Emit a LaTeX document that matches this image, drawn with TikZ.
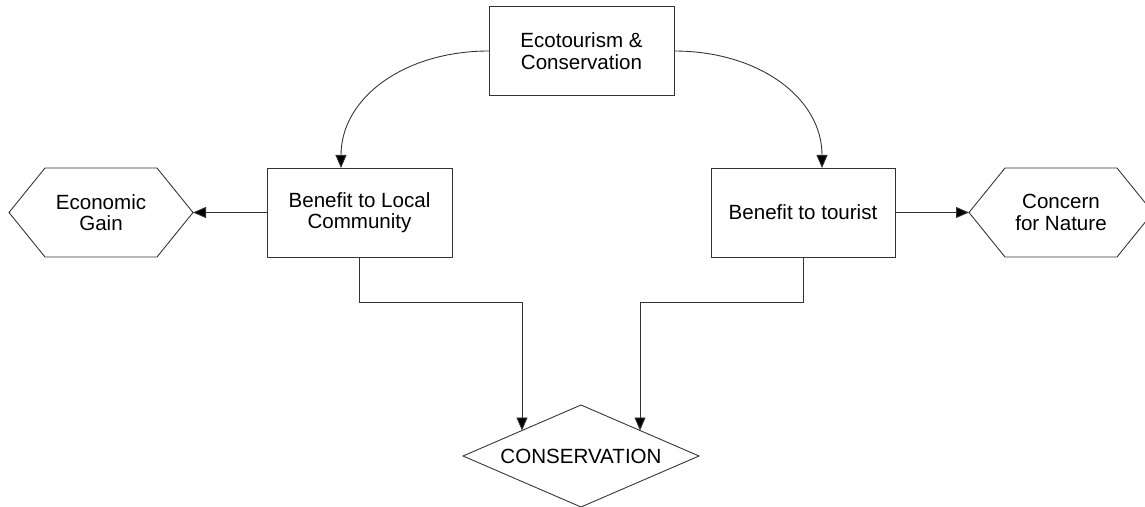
\documentclass[tikz,border=0pt]{standalone}
\usepackage{fontspec}
\setmainfont{Liberation Sans}
\usepackage{tikz}
\usetikzlibrary{positioning, shapes, shapes.geometric, arrows.meta, calc}
\tikzset{
  box/.style={
    draw, rectangle, outer sep=0pt, inner sep=2pt,
    minimum width=3.7cm, minimum height=1.78cm,
    align=center
  },
  hexa/.style={
    rectangle, outer sep=0pt, inner sep=2pt,
    minimum width=3.68cm, minimum height=1.78cm,
    align=center
  },
  decision/.style={
    draw, diamond, aspect=2.31, outer sep=0pt, inner sep=1pt,
    minimum width=4.72cm, minimum height=2.04cm
  },
  arrow/.style={-{Triangle[length=0.26cm, width=0.22cm, fill=black]}},
  line/.style={draw}
}

\begin{document}
\begin{tikzpicture}[line width=0.5pt, draw=black!80, every node/.style={font=\fontsize{11.7}{12.2}\selectfont}]
\useasboundingbox (0,0) rectangle (22.9,-10.14);

%% Boxes
\node[box] (eco) at (11.63,-1.02) {Ecotourism \&\\Conservation};
\node[box] (local) at (7.19,-4.25) {Benefit to Local\\Community};
\node[box, minimum width=3.68cm] (tourist) at (16.06,-4.25) {Benefit to tourist};

%% Hexagons
\node[hexa] (gain) at (2.02,-4.25) {Economic\\Gain};
\node[hexa] (nature) at (21.22,-4.25) {Concern\\for Nature};
\foreach \n in {gain,nature}
  \draw[line] (\n.west) -- ([xshift=0.72cm]\n.north west) -- ([xshift=-0.72cm]\n.north east)
    -- (\n.east) -- ([xshift=-0.72cm]\n.south east) -- ([xshift=0.72cm]\n.south west) -- cycle;

%% Decision
\node[decision] (cons) at (11.62,-9.12) {CONSERVATION};

%% Connectors
\draw[arrow] (eco.west) .. controls +(-1.7,0) and +(0,1.4) .. ([xshift=-0.37cm]local.north);
\draw[arrow] (eco.east) .. controls +(1.7,0) and +(0,1.4) .. ([xshift=0.38cm]tourist.north);
\draw[arrow] (local.west) -- (gain.east);
\draw[arrow] (tourist.east) -- (nature.west);
\draw[arrow] (local.south) -- ++(0,-0.9) -| (cons.north west);
\draw[arrow] (tourist.south) -- ++(0,-0.9) -| (cons.north east);
\end{tikzpicture}
\end{document}
